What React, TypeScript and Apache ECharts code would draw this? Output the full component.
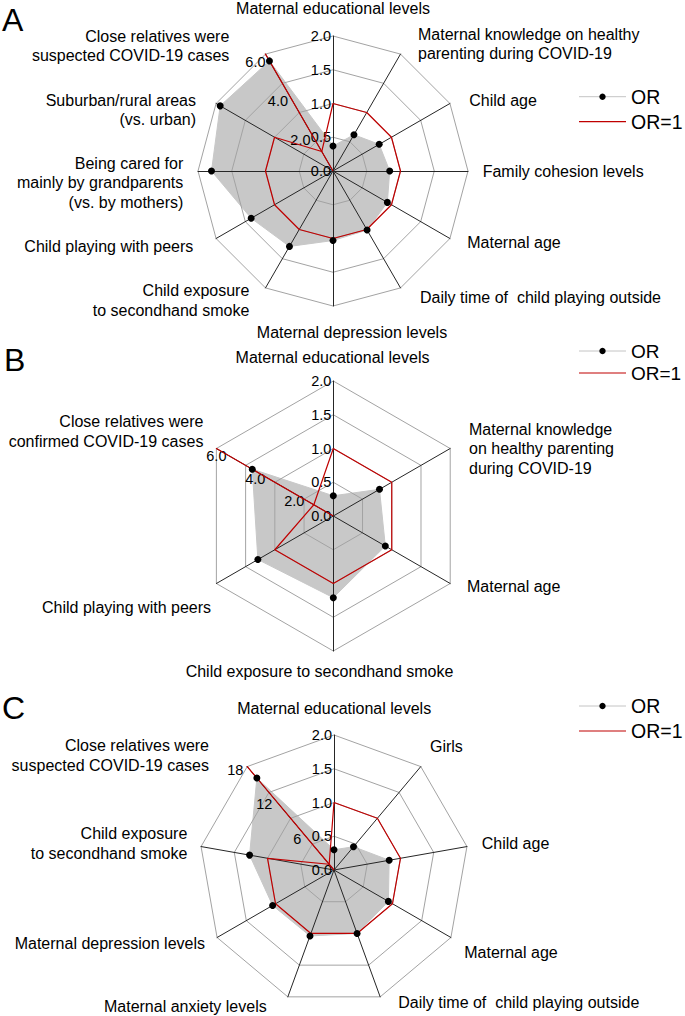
import React, { useEffect, useRef } from 'react';
import * as echarts from 'echarts';

// ---------------- Data: panel A ----------------
const namesA = [
  'Maternal educational levels',
  'Maternal knowledge on healthy\nparenting during COVID-19',
  'Child age',
  'Family cohesion levels',
  'Maternal age',
  'Daily time of  child playing outside',
  'Maternal depression levels',
  'Child exposure\nto secondhand smoke',
  'Child playing with peers',
  'Being cared for\nmainly by grandparents\n(vs. by mothers)',
  'Suburban/rural areas\n(vs. urban)',
  'Close relatives were\nsuspected COVID-19 cases',
];
const maxA = [2, 2, 2, 2, 2, 2, 2, 2, 2, 2, 2, 6];
const orA = [0.37, 0.62, 0.79, 0.84, 0.93, 1.01, 1.03, 1.29, 1.4, 1.8, 1.93, 5.65];
const refA = [1, 1, 1, 1, 1, 1, 1, 1, 1, 1, 1, 1];
const guideA = [0, 0, 0, 0, 0, 0, 0, 0, 0, 0, 0, 6];
const ticksA2 = [0, 2, 4, 6];

// ---------------- Data: panel B ----------------
const namesB = [
  'Maternal educational levels',
  'Maternal knowledge\non healthy parenting\nduring COVID-19',
  'Maternal age',
  'Child exposure to secondhand smoke',
  'Child playing with peers',
  'Close relatives were\nconfirmed COVID-19 cases',
];
const maxB = [2, 2, 2, 2, 2, 6];
const orB = [0.3, 0.79, 0.89, 1.21, 1.29, 4.16];
const refB = [1, 1, 1, 1, 1, 1];
const guideB = [0, 0, 0, 0, 0, 6];
const ticksB2 = [0, 2, 4, 6];

// ---------------- Data: panel C ----------------
const namesC = [
  'Maternal educational levels',
  'Girls',
  'Child age',
  'Maternal age',
  'Daily time of  child playing outside',
  'Maternal anxiety levels',
  'Maternal depression levels',
  'Child exposure\nto secondhand smoke',
  'Close relatives were\nsuspected COVID-19 cases',
];
const maxC = [2, 2, 2, 2, 2, 2, 2, 2, 18];
const orC = [0.3, 0.45, 0.83, 0.93, 1.0, 1.04, 1.05, 1.27, 16.0];
const refC = [1, 1, 1, 1, 1, 1, 1, 1, 1];
const guideC = [0, 0, 0, 0, 0, 0, 0, 0, 18];
const ticksC2 = [0, 6, 12, 18];

// common tick labels of the 0-2 axes
const ticksMain = [0, 0.5, 1, 1.5, 2];

const FONT = 'Arial, "Liberation Sans", Helvetica, sans-serif';
const RED = '#c00000';
const FILL = '#c8c8c8';

type Align = 'left' | 'right' | 'center';

interface Panel {
  letter: string;
  letterPos: [number, number];
  center: [number, number];
  radius: number;
  names: string[];
  max: number[];
  or: number[];
  ref: number[];
  guide: number[];
  ticks2: number[];
  fmt2: (v: number) => string;
  label2: any;
  namePos: [number, number, Align][];
  legendY: [number, number];
  legendFont: number;
}

const panels: Panel[] = [
  {
    letter: 'A', letterPos: [2, 20], center: [333, 171], radius: 135,
    names: namesA, max: maxA, or: orA, ref: refA, guide: guideA, ticks2: ticksA2,
    fmt2: (v) => v.toFixed(1),
    label2: { margin: 0, align: 'right', verticalAlign: 'top' },
    namePos: [
      [333, 8, 'center'], [418, 44, 'left'], [469.3, 100, 'left'], [482.7, 171, 'left'],
      [467.3, 242.7, 'left'], [420, 297.3, 'left'], [352, 332.7, 'center'], [249.3, 300.5, 'right'],
      [193.3, 246.7, 'right'], [183.3, 182.8, 'right'], [196, 110, 'right'], [229.3, 46, 'right'],
    ],
    legendY: [96.7, 121.7], legendFont: 19.5,
  },
  {
    letter: 'B', letterPos: [4, 360], center: [333.3, 516], radius: 135,
    names: namesB, max: maxB, or: orB, ref: refB, guide: guideB, ticks2: ticksB2,
    fmt2: (v) => v.toFixed(1),
    label2: { margin: 0, align: 'center', verticalAlign: 'top' },
    namePos: [
      [332.5, 357.5, 'center'], [469, 449, 'left'], [467, 586.7, 'left'],
      [319.5, 671.7, 'center'], [211, 607.3, 'right'], [203.4, 431.3, 'right'],
    ],
    legendY: [351, 373], legendFont: 19,
  },
  {
    letter: 'C', letterPos: [2, 708], center: [334, 870], radius: 135,
    names: namesC, max: maxC, or: orC, ref: refC, guide: guideC, ticks2: ticksC2,
    fmt2: (v) => String(v),
    label2: { margin: 5 },
    namePos: [
      [334.2, 708.3, 'center'], [430, 746.7, 'left'], [481.7, 843.3, 'left'], [464.3, 952.7, 'left'],
      [398.3, 1002.7, 'left'], [266.7, 1006.7, 'right'], [205, 943.3, 'right'], [187.3, 843.3, 'right'],
      [209, 755.3, 'right'],
    ],
    legendY: [706, 731], legendFont: 19.5,
  },
];

// ECharts places radar indicators counter-clockwise; the figure lists them clockwise.
function ccw<T>(a: T[]): T[] {
  return [a[0], ...a.slice(1).reverse()];
}

// compute nameGap / padding so that an indicator name lands where the figure has it
function namePlacement(cx: number, cy: number, r: number, angleDeg: number, px: number, py: number, align: Align) {
  const a = (angleDeg * Math.PI) / 180;
  const dx = Math.cos(a);
  const dy = -Math.sin(a);
  let g = (px - cx) * dx + (py - cy) * dy - r;
  let ax = 0;
  let ay = 0;
  for (let i = 0; i < 600; i++) {
    ax = cx + (r + g) * dx;
    ay = cy + (r + g) * dy;
    const ok = (align !== 'left' || px >= ax - 0.01) && (align !== 'right' || px <= ax + 0.01);
    if (ok) break;
    g -= 0.5;
  }
  let pl = 0, pr = 0, pt = 0, pb = 0;
  if (align === 'left') pl = px - ax;
  else if (align === 'right') pr = ax - px;
  else {
    const s = px - ax;
    if (s > 0) pl = 2 * s; else pr = -2 * s;
  }
  const sv = py - ay;
  if (sv > 0) pt = 2 * sv; else pb = -2 * sv;
  return {
    nameGap: g,
    nameTextStyle: {
      align,
      verticalAlign: 'middle',
      padding: [pt, pr, pb, pl],
      lineHeight: 19.5,
      rich: { z: { lineHeight: 19.5 } },
    },
  };
}

function buildOption() {
  const radar: any[] = [];
  const series: any[] = [];
  const graphic: any[] = [];

  panels.forEach((p) => {
    const n = p.names.length;
    const idx = p.names.map((_, i) => i);
    const order = ccw(idx);
    const guideIdx = p.guide.findIndex((v) => v > 0);
    const mainIndex = radar.length;

    radar.push({
      center: p.center,
      radius: p.radius,
      startAngle: 90,
      shape: 'polygon',
      splitNumber: ticksMain.length - 1,
      z: 3,
      axisName: { show: true, color: '#000', fontSize: 16, fontFamily: FONT, lineHeight: 19.5 },
      axisLine: { lineStyle: { color: '#262626', width: 1 } },
      splitLine: { lineStyle: { color: '#a3a3a3', width: 1 } },
      splitArea: { show: false },
      axisTick: { show: false },
      axisLabel: { show: false },
      indicator: order.map((i) => {
        const ang = 90 - (i * 360) / n;
        const [px, py, al] = p.namePos[i];
        const ind: any = {
          name: p.names[i],
          min: 0,
          max: p.max[i],
          ...namePlacement(p.center[0], p.center[1], p.radius, ang, px, py, al),
        };
        if (i === 0) {
          ind.max = ticksMain[ticksMain.length - 1];
          ind.axisLabel = {
            show: true, margin: 2, color: '#000', fontSize: 14.5, fontFamily: FONT,
            formatter: (v: number) => v.toFixed(1),
          };
        }
        return ind;
      }),
    });

    // second radar only carries the tick labels of the rescaled axis
    radar.push({
      center: p.center,
      radius: p.radius,
      startAngle: 90,
      shape: 'polygon',
      splitNumber: p.ticks2.length - 1,
      z: 3,
      axisName: { show: false },
      axisLine: { show: false },
      splitLine: { show: false },
      splitArea: { show: false },
      axisTick: { show: false },
      axisLabel: { show: false },
      indicator: order.map((i) => {
        const ind: any = { name: '', min: 0, max: i === guideIdx ? p.ticks2[p.ticks2.length - 1] : 1 };
        if (i === guideIdx) {
          ind.axisLabel = {
            show: true, color: '#000', fontSize: 14.5, fontFamily: FONT,
            ...p.label2,
            formatter: (v: number) => (v === 0 ? '' : p.fmt2(v)),
          };
        }
        return ind;
      }),
    });

    series.push({
      type: 'radar', radarIndex: mainIndex, z: 2, symbol: 'none', silent: true,
      lineStyle: { color: FILL, width: 1 },
      areaStyle: { color: FILL, opacity: 1 },
      data: [{ value: ccw(p.or), name: 'OR' }],
    });
    series.push({
      type: 'radar', radarIndex: mainIndex, z: 4, symbol: 'none', silent: true,
      lineStyle: { color: RED, width: 1.2 },
      data: [
        { value: ccw(p.ref), name: 'OR=1' },
        { value: ccw(p.guide), name: 'OR=1 guide' },
      ],
    });
    series.push({
      type: 'radar', radarIndex: mainIndex, z: 5, symbol: 'circle', symbolSize: 7, silent: true,
      itemStyle: { color: '#000' },
      lineStyle: { width: 0, opacity: 0 },
      data: [{ value: ccw(p.or), name: 'OR' }],
    });

    // panel letter
    graphic.push({
      type: 'text', x: p.letterPos[0], y: p.letterPos[1],
      style: { text: p.letter, fill: '#000', fontSize: 32, fontFamily: FONT, verticalAlign: 'middle', align: 'left' },
    });
    // legend
    const [y1, y2] = p.legendY;
    graphic.push({ type: 'line', shape: { x1: 579, y1, x2: 626, y2: y1 }, style: { stroke: '#c4c4c4', lineWidth: 1 } });
    graphic.push({ type: 'circle', shape: { cx: 602.5, cy: y1, r: 3.2 }, style: { fill: '#000' } });
    graphic.push({
      type: 'text', x: 631, y: y1,
      style: { text: 'OR', fill: '#000', fontSize: p.legendFont, fontFamily: FONT, verticalAlign: 'middle', align: 'left' },
    });
    graphic.push({ type: 'line', shape: { x1: 579, y1: y2, x2: 626, y2 }, style: { stroke: RED, lineWidth: 1.2 } });
    graphic.push({
      type: 'text', x: 631, y: y2,
      style: { text: 'OR=1', fill: '#000', fontSize: p.legendFont, fontFamily: FONT, verticalAlign: 'middle', align: 'left' },
    });
  });

  return {
    animation: false,
    backgroundColor: '#fff',
    textStyle: { fontFamily: FONT },
    radar,
    series,
    graphic,
  };
}

export default function App() {
  const ref = useRef<HTMLDivElement>(null);
  useEffect(() => {
    if (!ref.current) return;
    const chart = echarts.init(ref.current, undefined, { renderer: 'svg' });
    chart.setOption(buildOption() as any);
    return () => chart.dispose();
  }, []);
  return (
    <div
      ref={ref}
      style={{ position: 'absolute', left: 0, top: 0, width: 685, height: 1016, background: '#fff' }}
    />
  );
}
